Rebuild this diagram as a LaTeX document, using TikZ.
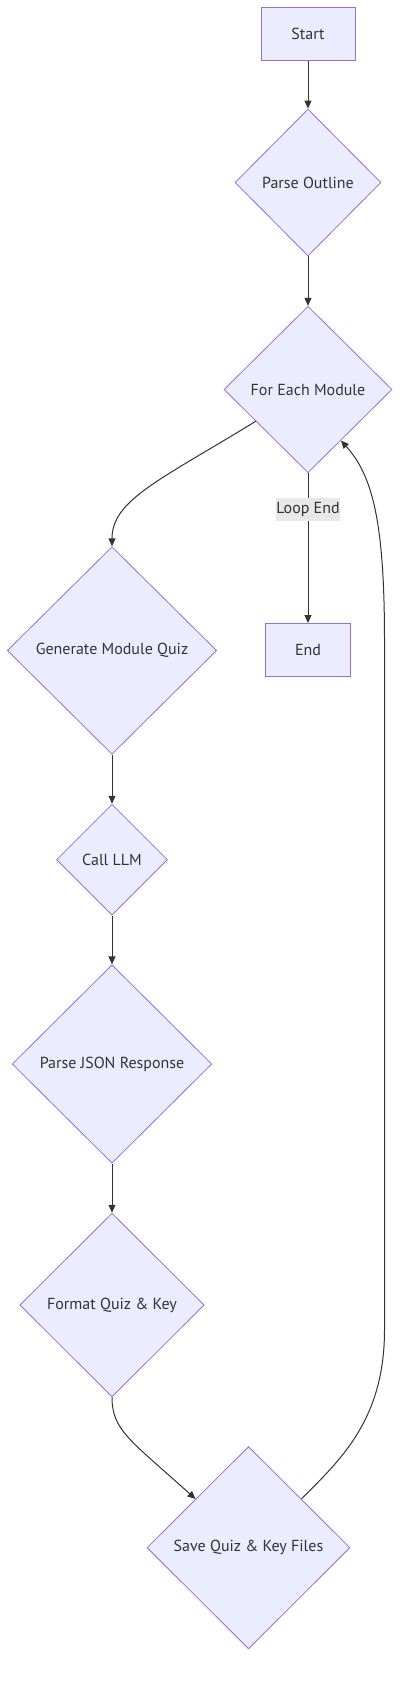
\documentclass[tikz,border=0pt]{standalone}
\usepackage{fontspec}
\setmainfont{PT Sans}
\usetikzlibrary{shapes.geometric,arrows.meta,calc}
\definecolor{nodefill}{HTML}{ECECFF}
\definecolor{nodeline}{HTML}{9370DB}
\definecolor{edgecol}{HTML}{333333}
\definecolor{labelbg}{HTML}{E8E8E8}
\definecolor{txt}{HTML}{333333}
\begin{document}
\begin{tikzpicture}[x=1pt,y=-1pt,
 font=\fontsize{16}{19}\selectfont,
 box/.style={draw=nodeline, fill=nodefill, line width=1pt, rectangle, inner sep=0pt, text=txt},
 dec/.style={draw=nodeline, fill=nodefill, line width=0.8pt, diamond, aspect=1, inner sep=0pt, text=txt},
 conn/.style={draw=edgecol, line width=1pt, -{Triangle[length=8pt,width=7pt]}},
 lbl/.style={fill=labelbg, text=txt, inner sep=0pt, minimum width=64pt, minimum height=23pt}]
\useasboundingbox (0,0) rectangle (408,1691);
\node[box, minimum width=94pt, minimum height=53.5pt] (start) at (308,34) {Start};
\node[dec, minimum width=146pt, minimum height=147pt] (po) at (308,182.5) {Parse Outline};
\node[dec, minimum width=168pt, minimum height=166.5pt] (fe) at (308,389.5) {For Each Module};
\node[box, minimum width=84.6pt, minimum height=53pt] (end) at (308,650) {End};
\node[dec, minimum width=209.4pt, minimum height=207.5pt] (gen) at (112,650.5) {Generate Module Quiz};
\node[dec, minimum width=111pt, minimum height=111pt] (llm) at (112,859.7) {Call LLM};
\node[dec, minimum width=199.7pt, minimum height=198.3pt] (json) at (112,1064) {Parse JSON Response};
\node[dec, minimum width=184.3pt, minimum height=183.7pt] (fmt) at (112,1305) {Format Quiz \& Key};
\node[dec, minimum width=203pt, minimum height=202.3pt] (sv) at (248.5,1547.7) {Save Quiz \& Key Files};
\draw[conn] (start) -- (po);
\draw[conn] (po) -- (fe);
\draw[conn] (fe) -- node[lbl, pos=0.24] (le) {Loop End} (end);
\draw[conn] ($(fe.west)!0.38!(fe.south)$) .. controls (160,480) and (112,500) .. (gen.north);
\draw[conn] (gen) -- (llm);
\draw[conn] (llm) -- (json);
\draw[conn] (json) -- (fmt);
\draw[conn] (fmt.south) .. controls (112,1430) and (130,1440) .. ($(sv.north)!0.52!(sv.west)$);
\draw[conn] ($(sv.north)!0.52!(sv.east)$) .. controls (340,1460) and (384.5,1420) .. (384.5,1330) -- (384.5,640) .. controls (384.5,520) and (372,475) .. ($(fe.east)!0.61!(fe.south)$);
\end{tikzpicture}
\end{document}
